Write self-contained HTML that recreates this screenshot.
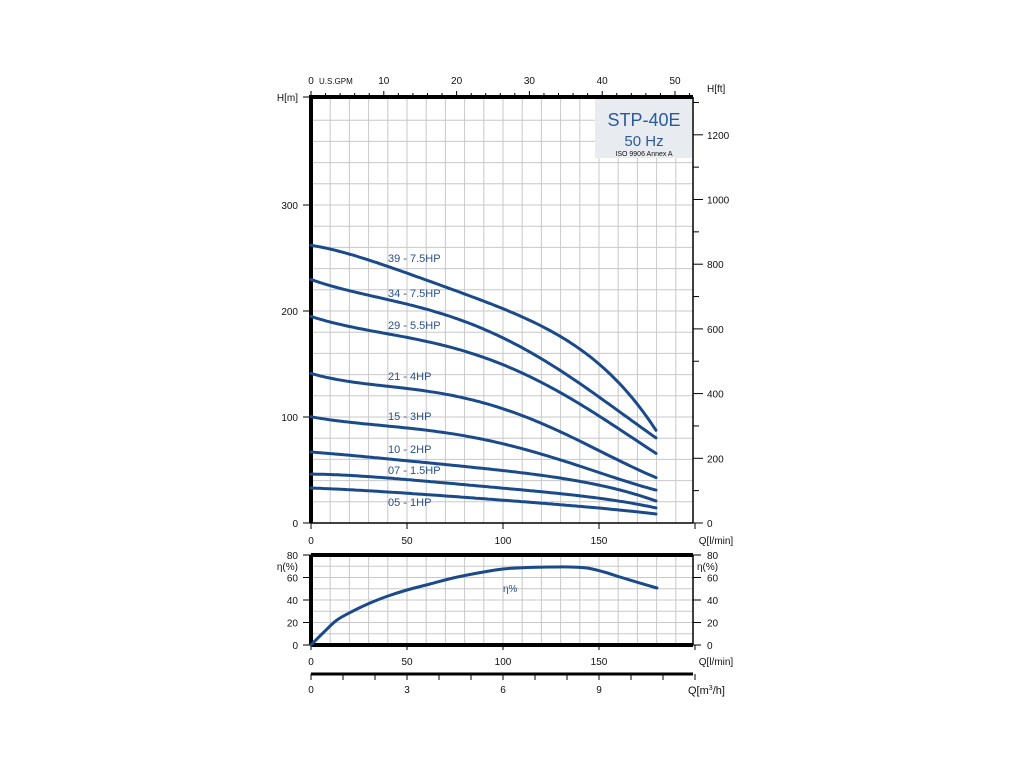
<!DOCTYPE html>
<html><head><meta charset="utf-8"><style>
html,body{margin:0;padding:0;background:#fff;width:1024px;height:768px;overflow:hidden}
svg{display:block}
text{font-family:"Liberation Sans",sans-serif;fill:#111;font-size:10px}
.lb{fill:#2a4f8a;font-size:11px}
</style></head><body>
<svg id="s" width="1024" height="768" xmlns="http://www.w3.org/2000/svg">
<g id="grid" stroke="#c8c8c8" stroke-width="1"></g>
<rect x="595" y="99" width="97" height="59" fill="#e8ecf1"/>
<text x="644" y="126" text-anchor="middle" style="font-size:18px;fill:#2a5a9a">STP-40E</text>
<text x="644" y="146" text-anchor="middle" style="font-size:15px;fill:#2a5a9a">50 Hz</text>
<text x="644" y="156" text-anchor="middle" style="font-size:7px">ISO 9906 Annex A</text>
<g id="ax" stroke="#000"></g>
<g id="curves" fill="none" stroke="#1a4a8a" stroke-width="3" stroke-linecap="round" stroke-linejoin="round"></g>
<g id="txt"></g>
<text class="lb" x="388" y="262">39 - 7.5HP</text>
<text class="lb" x="388" y="297">34 - 7.5HP</text>
<text class="lb" x="388" y="329">29 - 5.5HP</text>
<text class="lb" x="388" y="380">21 - 4HP</text>
<text class="lb" x="388" y="420">15 - 3HP</text>
<text class="lb" x="388" y="453">10 - 2HP</text>
<text class="lb" x="388" y="474">07 - 1.5HP</text>
<text class="lb" x="388" y="506">05 - 1HP</text>
<text class="lb" x="503" y="592" style="font-size:10px">η%</text>
</svg>
<script>
const NS="http://www.w3.org/2000/svg";
function el(p,t,a,txt){const e=document.createElementNS(NS,t);for(const k in a)e.setAttribute(k,a[k]);if(txt!=null)e.textContent=txt;document.getElementById(p).appendChild(e);return e;}
function ln(p,x1,y1,x2,y2,w){el(p,'line',{x1,y1,x2,y2,'stroke-width':w||1});}
function tx(x,y,s,anc){el('txt','text',{x,y,'text-anchor':anc||'start'},s);}
const L=311,R=693,T=97,B=523,qx=q=>L+q*1.92;
for(let q=10;q<200;q+=10)ln('grid',qx(q),T,qx(q),B);
for(let h=20;h<400;h+=20){const y=B-h*1.06;ln('grid',L,y,R,y);}
const eT=555,eB=645;
for(let q=10;q<200;q+=10)ln('grid',qx(q),eT,qx(q),eB);
for(let e=10;e<80;e+=10){const y=eB-e*1.125;ln('grid',L,y,R,y);}
ln('ax',L,T,R,T,4);ln('ax',L,T-2,L,B,4);ln('ax',L,B,R,B,1.5);ln('ax',R,T,R,B,1.5);
[0,100,200,300].forEach(h=>{const y=B-h*1.06;ln('ax',303,y,L,y,1);tx(298,y+4,String(h),'end');});
ln('ax',303,T,L,T,1);tx(298,T+4,'H[m]','end');
for(let f=0;f<=1300;f+=100){const y=B-f*0.3235;const maj=f%200==0;ln('ax',R,y,R+(maj?10:6),y,1);if(maj)tx(707,y+4,String(f));}
tx(707,92,'H[ft]');
for(let g=0;g<=52;g+=2){const x=L+g*7.28;ln('ax',x,T,x,T-(g%10==0?6:4),1);}
[0,10,20,30,40,50].forEach(g=>tx(L+g*7.28,84,String(g),'middle'));
el('txt','text',{x:319,y:84,style:'font-size:8px'},'U.S.GPM');
[0,50,100,150,200].forEach(q=>{ln('ax',qx(q),B,qx(q),B+6,1);});
[0,50,100,150].forEach(q=>tx(qx(q),544,String(q),'middle'));
tx(716,544,'Q[l/min]','middle');
ln('ax',L,eT,R,eT,4);ln('ax',L,eB,R,eB,4);ln('ax',L,eT,L,eB,4);ln('ax',R,eT,R,eB,1.5);
[0,20,40,60,80].forEach(e=>{const y=eB-e*1.125;ln('ax',303,y,L,y,1);ln('ax',R,y,R+8,y,1);tx(298,y+4,String(e),'end');tx(707,y+4,String(e));});
tx(298,570,'η(%)','end');tx(697,570,'η(%)');
[0,50,100,150,200].forEach(q=>ln('ax',qx(q),eB,qx(q),eB+5,1));
[0,50,100,150].forEach(q=>tx(qx(q),665,String(q),'middle'));
tx(716,665,'Q[l/min]','middle');
ln('ax',L,674,R,674,3);
for(let m=0;m<=12;m++){const x=L+m*32;ln('ax',x,674,x,680,1);}
[0,3,6,9].forEach(m=>tx(L+m*32,693,String(m),'middle'));
const t=el('txt','text',{x:688,y:694,style:'font-size:11px'});t.innerHTML='Q[m<tspan dy="-4" style="font-size:7px">3</tspan><tspan dy="4">/h]</tspan>';
// least-squares polynomial fit
function fit(pts,deg){const n=deg+1;const A=[...Array(n)].map(()=>Array(n+1).fill(0));
pts.forEach(([x,y])=>{const u=(x-311)/350;const pw=[];for(let i=0;i<2*n;i++)pw.push(Math.pow(u,i));
for(let i=0;i<n;i++){for(let j=0;j<n;j++)A[i][j]+=pw[i+j];A[i][n]+=pw[i]*y;}});
for(let i=0;i<n;i++){let m=i;for(let k=i+1;k<n;k++)if(Math.abs(A[k][i])>Math.abs(A[m][i]))m=k;[A[i],A[m]]=[A[m],A[i]];
for(let k=0;k<n;k++)if(k!=i){const f=A[k][i]/A[i][i];for(let j=i;j<=n;j++)A[k][j]-=f*A[i][j];}}
const c=A.map((r,i)=>r[n]/r[i]);return x=>{const u=(x-311)/350;let s=0;for(let i=n-1;i>=0;i--)s=s*u+c[i];return s;};}
const C=[
[[311,245],[356,257],[400,270],[450,288],[500,308],[550,332],[583,350],[600,364],[633,400],[656,430]],
[[311,280],[356,291],[400,303],[450,318],[500,335],[550,363],[600,400],[630,418],[656,438]],
[[311,317],[356,326],[400,337],[450,349],[500,362],[533,377],[583,407],[620,430],[656,453]],
[[311,374],[356,381],[400,388],[450,397],[500,407],[550,425],[600,453],[630,466],[656,477]],
[[311,417],[356,422],[400,428],[450,434],[500,442],[550,457],[600,473],[656,490]],
[[311,452],[356,456],[400,460],[450,465],[500,470],[550,477],[600,485],[656,501]],
[[311,474],[356,476],[400,479],[450,483],[500,488],[550,493],[600,498],[656,508]],
[[311,488],[356,490],[400,493],[450,496],[500,500],[550,504],[600,508],[656,514]]];
C.forEach(p=>{const f=fit(p,4);let d='';for(let x=311;x<=656;x+=3)d+=(d?'L':'M')+x+','+f(x).toFixed(1);d+='L656,'+f(656).toFixed(1);el('curves','path',{d});});
const E=[[311,645],[324,632],[337,620],[353,611],[370,603],[388,596],[407,590],[430,584],[453,578],[478,573],[503,569],[528,567.5],[553,567],[570,567],[587,568],[604,572],[620,577],[640,583],[657,588]];
// smooth via catmull-rom
function cr(pts){let d='M'+pts[0][0]+','+pts[0][1];for(let i=0;i<pts.length-1;i++){const p0=pts[i-1]||pts[i],p1=pts[i],p2=pts[i+1],p3=pts[i+2]||p2;
d+=` C${p1[0]+(p2[0]-p0[0])/6},${p1[1]+(p2[1]-p0[1])/6} ${p2[0]-(p3[0]-p1[0])/6},${p2[1]-(p3[1]-p1[1])/6} ${p2[0]},${p2[1]}`;}return d;}
el('curves','path',{d:cr(E)});
</script>
</body></html>
